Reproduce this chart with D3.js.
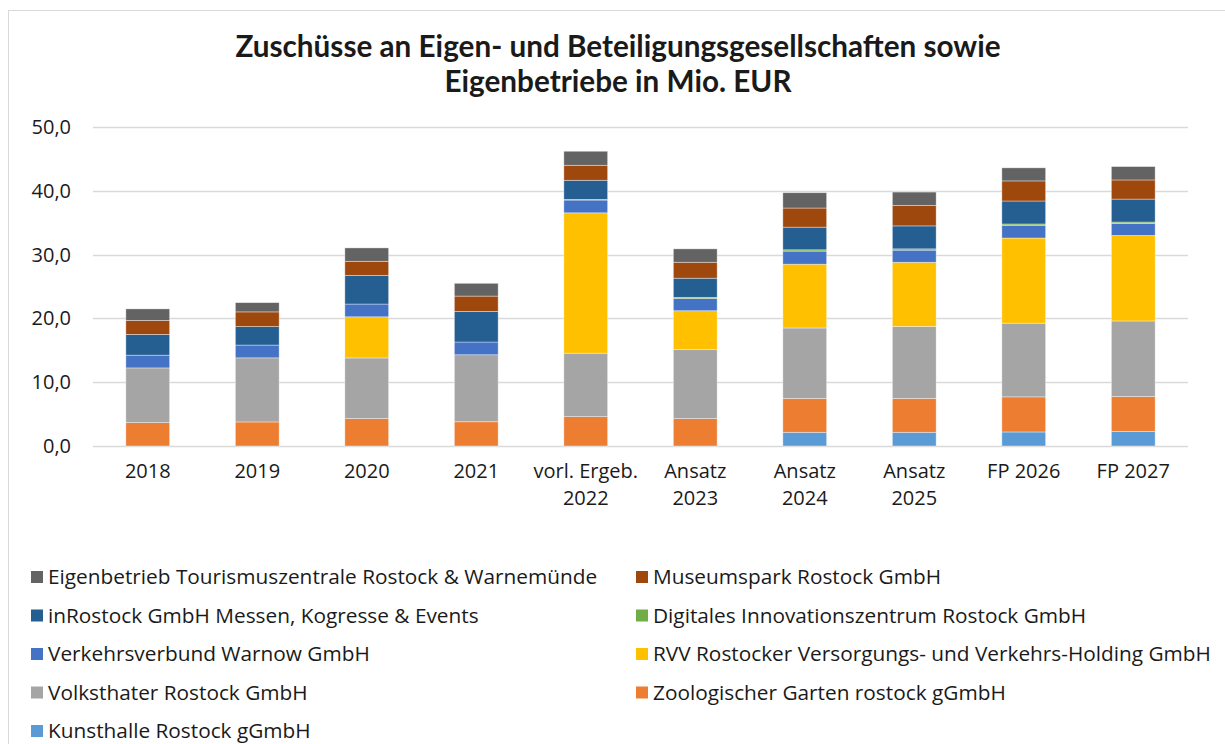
<!DOCTYPE html>
<html>
<head>
<meta charset="utf-8">
<script src="https://cdn.jsdelivr.net/npm/d3@7"></script>
<style>
  body { margin: 0; background: #fff; }
  text { font-family: "Open Sans", "Noto Sans", sans-serif; fill: #1a1a1a; }
  .title { font-family: Lato, sans-serif; }
</style>
</head>
<body>
<div class="chart"></div>
<script>
// categories (x axis), two-line labels split with "|"
var categories = ["2018", "2019", "2020", "2021", "vorl. Ergeb.|2022", "Ansatz|2023",
                  "Ansatz|2024", "Ansatz|2025", "FP 2026", "FP 2027"];

// series, bottom of the stack first
var kunsthalle = [0, 0, 0, 0, 0, 0, 2.15, 2.15, 2.2, 2.3];
var zoo        = [3.66, 3.77, 4.3, 3.8, 4.6, 4.3, 5.3, 5.3, 5.5, 5.45];
var volks      = [8.58, 10.05, 9.5, 10.5, 9.95, 10.8, 11.05, 11.3, 11.55, 11.85];
var rvv        = [0, 0, 6.45, 0, 22.0, 6.1, 10.0, 10.05, 13.35, 13.4];
var verkehr    = [2.0, 2.0, 2.0, 2.0, 2.0, 1.9, 2.05, 1.9, 2.0, 1.9];
var diz        = [0, 0, 0, 0, 0.1, 0.2, 0.2, 0.2, 0.2, 0.2];
var inrostock  = [3.25, 2.9, 4.5, 4.8, 3.0, 3.0, 3.55, 3.6, 3.6, 3.6];
var museum     = [2.2, 2.3, 2.2, 2.4, 2.35, 2.5, 3.0, 3.2, 3.15, 3.0];
var tourismus  = [1.8, 1.45, 2.1, 2.0, 2.2, 2.1, 2.4, 2.1, 2.05, 2.1];

var yTicks = [0, 10, 20, 30, 40, 50];

var series = [
  { key: "kunsthalle", name: "Kunsthalle Rostock gGmbH", values: kunsthalle, color: "#5b9bd5" },
  { key: "zoo", name: "Zoologischer Garten rostock gGmbH", values: zoo, color: "#ed7d31" },
  { key: "volks", name: "Volksthater Rostock GmbH", values: volks, color: "#a5a5a5" },
  { key: "rvv", name: "RVV Rostocker Versorgungs- und Verkehrs-Holding GmbH", values: rvv, color: "#ffc000" },
  { key: "verkehr", name: "Verkehrsverbund Warnow GmbH", values: verkehr, color: "#4472c4" },
  { key: "diz", name: "Digitales Innovationszentrum Rostock GmbH", values: diz, color: "#70ad47" },
  { key: "inrostock", name: "inRostock GmbH Messen, Kogresse & Events", values: inrostock, color: "#255e91" },
  { key: "museum", name: "Museumspark Rostock GmbH", values: museum, color: "#9e480e" },
  { key: "tourismus", name: "Eigenbetrieb Tourismuszentrale Rostock & Warnemünde", values: tourismus, color: "#636363" }
];

var width = 1225;
var height = 744;
var margin = {top: 127, right: 37, bottom: 298, left: 93};

var svg = d3.select(".chart")
            .append("svg")
              .attr("width", width)
              .attr("height", height);

// outer frame
svg.append("rect")
   .attr("x", 8.5).attr("y", 10.5)
   .attr("width", width).attr("height", height)
   .attr("fill", "none")
   .attr("stroke", "#d9d9d9");

// title
svg.append("text")
   .attr("class", "title")
   .attr("x", 618).attr("y", 57)
   .attr("text-anchor", "middle")
   .attr("font-size", "29.7px").attr("font-weight", "bold")
   .text("Zuschüsse an Eigen- und Beteiligungsgesellschaften sowie");
svg.append("text")
   .attr("class", "title")
   .attr("x", 618).attr("y", 92)
   .attr("text-anchor", "middle")
   .attr("font-size", "29.7px").attr("font-weight", "bold")
   .text("Eigenbetriebe in Mio. EUR");

var table = categories.map(function(c, i) {
  var row = { cat: c };
  series.forEach(function(s) { row[s.key] = s.values[i]; });
  return row;
});

var stack = d3.stack().keys(series.map(function(s) { return s.key; }));
var stacked = stack(table);

var x = d3.scaleBand()
          .domain(categories)
          .range([margin.left, width - margin.right])
          .paddingInner(0.6)
          .paddingOuter(0.3);

var y = d3.scaleLinear()
          .domain([0, 50])
          .range([height - margin.bottom, margin.top]);

// gridlines
svg.append("g")
   .selectAll("line")
   .data(yTicks)
   .enter()
   .append("line")
    .attr("x1", margin.left)
    .attr("x2", width - margin.right)
    .attr("y1", function(d) { return Math.round(y(d)) + 0.5; })
    .attr("y2", function(d) { return Math.round(y(d)) + 0.5; })
    .attr("stroke", "#d9d9d9")
    .attr("stroke-width", 1.5);

// y labels
svg.append("g")
   .selectAll("text")
   .data(yTicks)
   .enter()
   .append("text")
    .attr("x", 71)
    .attr("y", function(d) { return y(d); })
    .attr("dy", "0.35em")
    .attr("text-anchor", "end")
    .attr("font-size", "20px")
    .text(function(d) { return d3.format(".1f")(d).replace(".", ","); });

// bars
var colorOf = {};
series.forEach(function(s) { colorOf[s.key] = s.color; });

svg.append("g")
   .selectAll("g")
   .data(stacked)
   .enter()
   .append("g")
    .attr("fill", function(d) { return colorOf[d.key]; })
   .selectAll("rect")
   .data(function(d) { return d; })
   .enter()
   .append("rect")
    .attr("x", function(d) { return x(d.data.cat); })
    .attr("y", function(d) { return y(d[1]); })
    .attr("width", x.bandwidth())
    .attr("height", function(d) { return Math.max(0, y(d[0]) - y(d[1])); })
    .attr("stroke", function(d) { return d[1] - d[0] > 0 ? "#fff" : "none"; })
    .attr("stroke-opacity", 0.5)
    .attr("stroke-width", 0.75);

// x labels
var xl = svg.append("g")
   .selectAll("text")
   .data(categories)
   .enter()
   .append("text")
    .attr("x", function(d) { return x(d) + x.bandwidth() / 2; })
    .attr("y", 478)
    .attr("text-anchor", "middle")
    .attr("font-size", "20px");
xl.selectAll("tspan")
  .data(function(d) { return d.split("|"); })
  .enter()
  .append("tspan")
   .attr("x", function() { var p = this.parentNode; return p.getAttribute("x"); })
   .attr("dy", function(d, i) { return i === 0 ? 0 : 27; })
   .text(function(d) { return d; });

// legend, two columns, top of stack first
var legendItems = series.slice().reverse();
var legend = svg.append("g")
   .selectAll("g")
   .data(legendItems)
   .enter()
   .append("g")
    .attr("transform", function(d, i) {
      var col = i % 2, row = Math.floor(i / 2);
      return "translate(" + (col === 0 ? 31 : 636) + "," + (577 + row * 38.5) + ")";
    });
legend.append("rect")
   .attr("x", 0).attr("y", -6)
   .attr("width", 12).attr("height", 12)
   .attr("fill", function(d) { return d.color; });
legend.append("text")
   .attr("x", 17)
   .attr("dy", "0.35em")
   .attr("font-size", "20.8px")
   .text(function(d) { return d.name; });
</script>
</body>
</html>
